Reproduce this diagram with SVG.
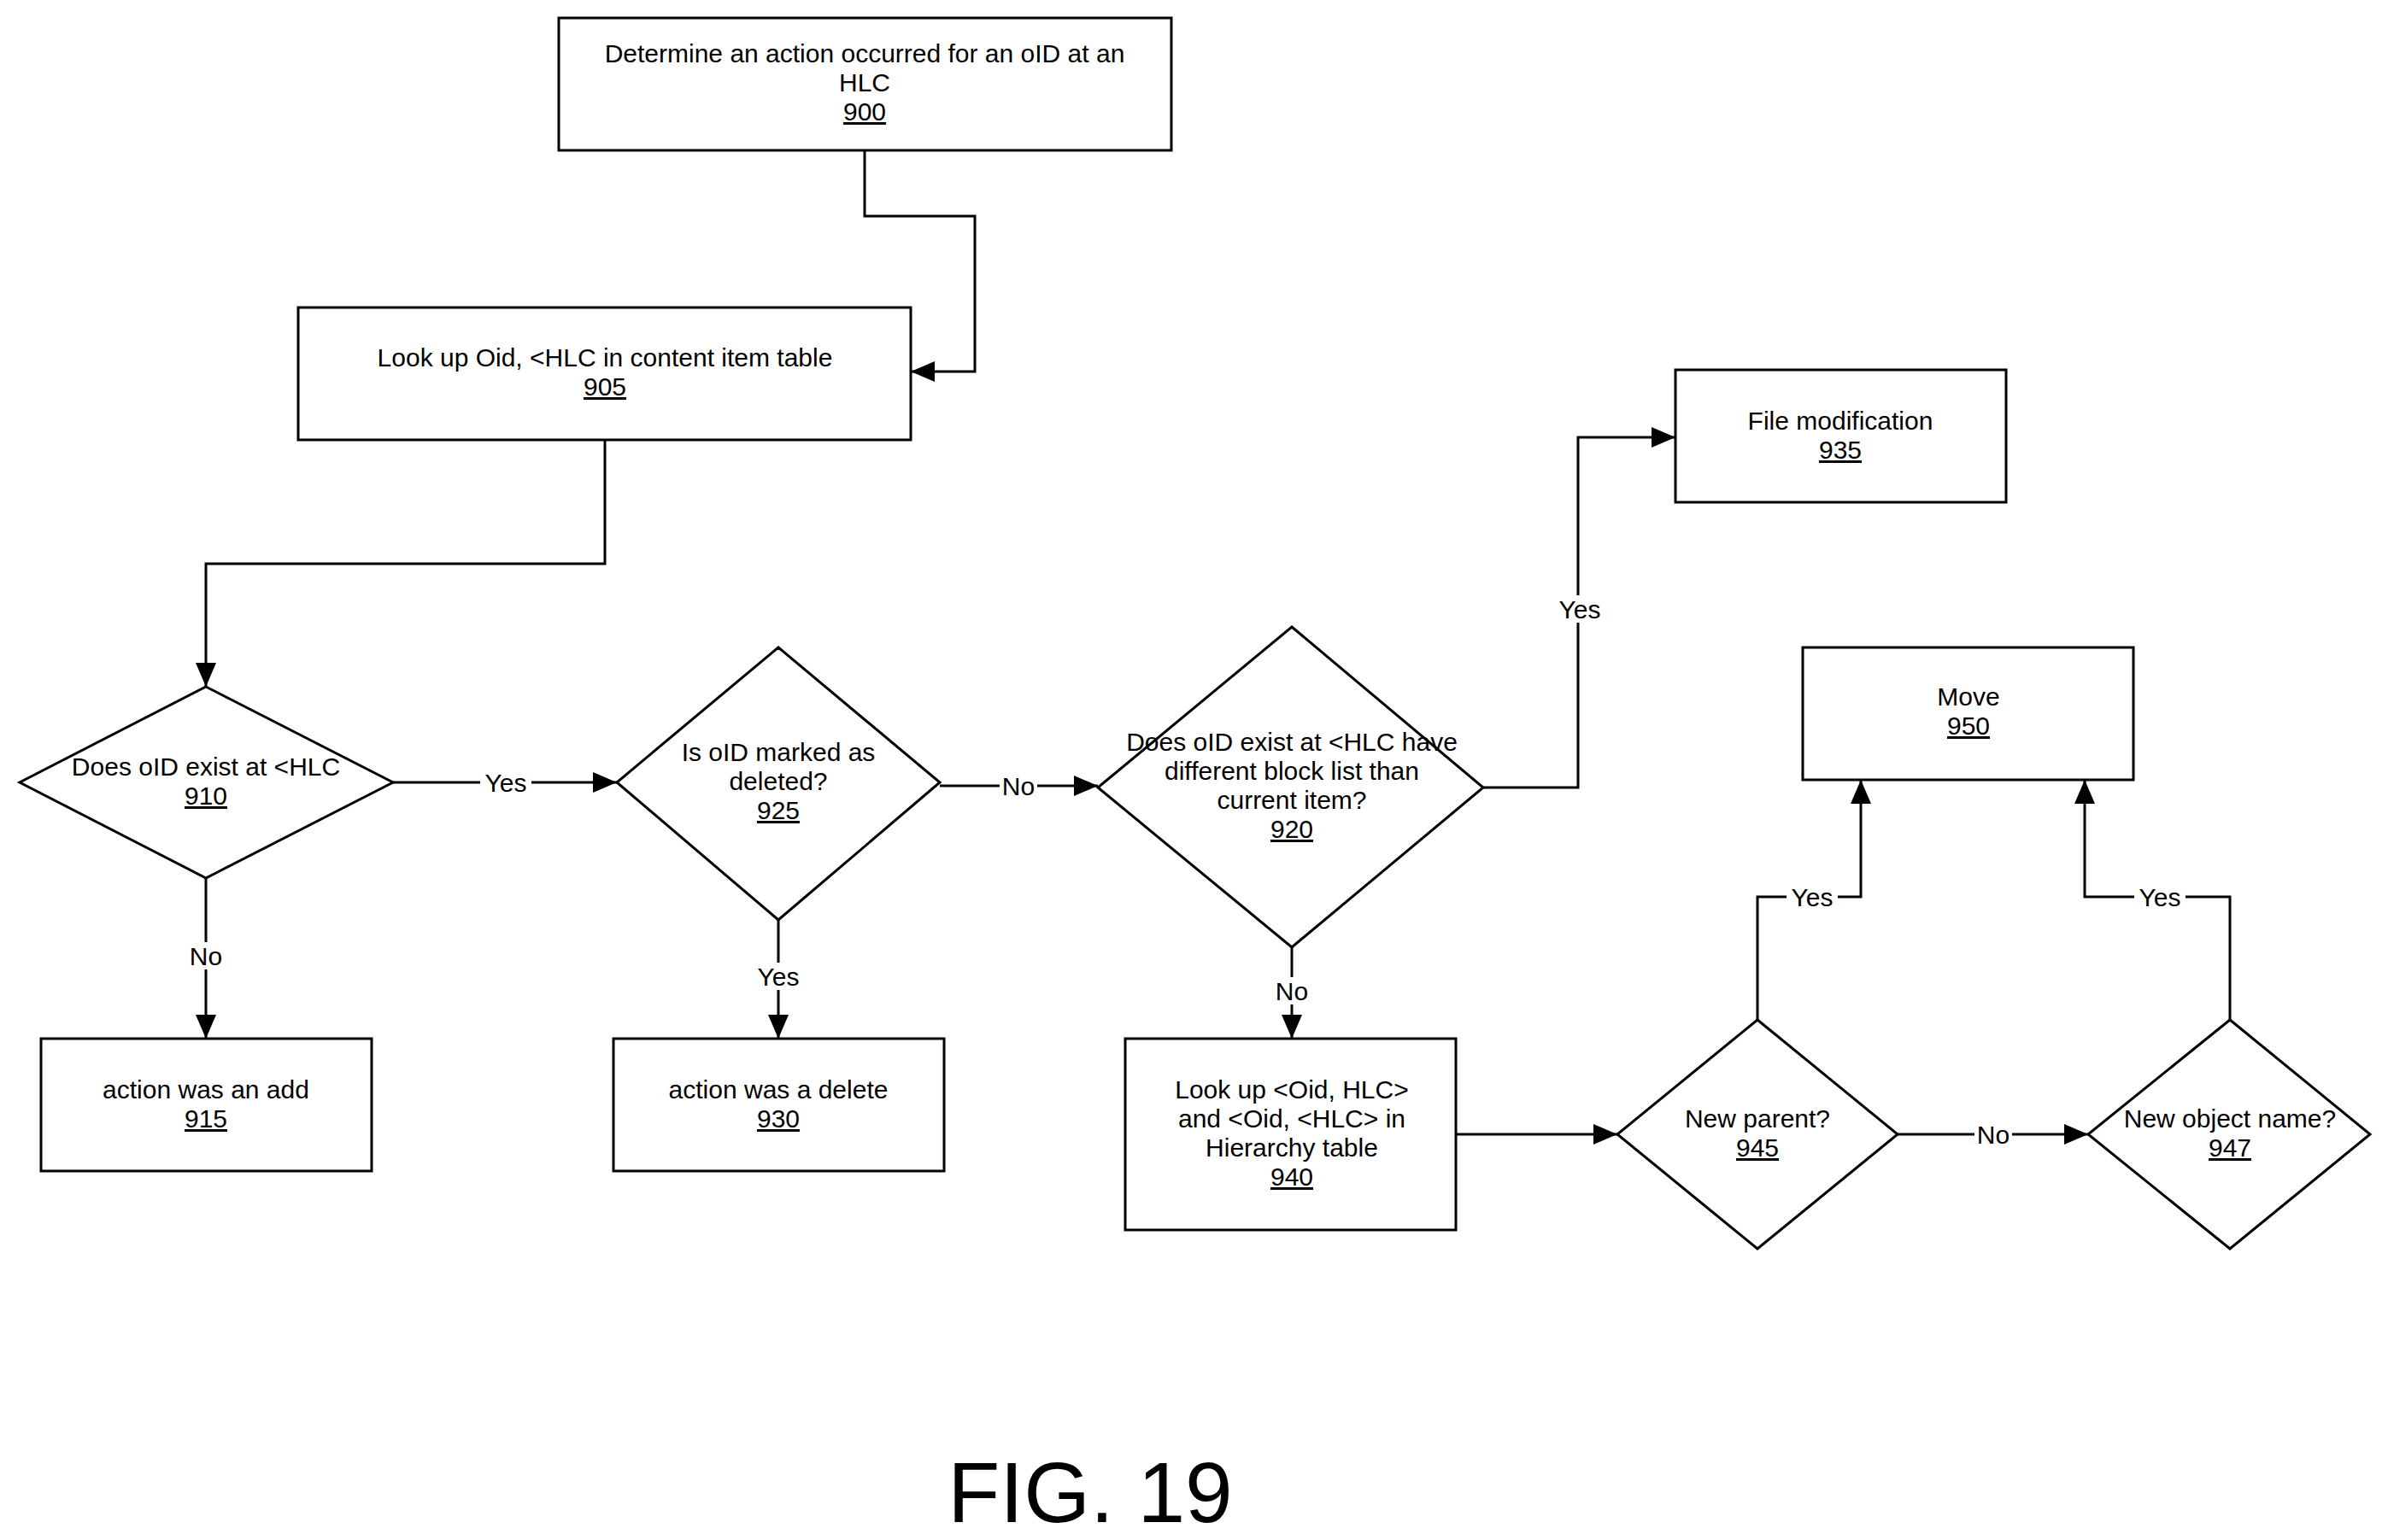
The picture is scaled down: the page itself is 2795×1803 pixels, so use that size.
<svg xmlns="http://www.w3.org/2000/svg" width="2795" height="1803" viewBox="0 0 2795 1803">
<style>
.s{fill:#fff;stroke:#000;stroke-width:3}
.c{fill:none;stroke:#000;stroke-width:3}
text{font-family:"Liberation Sans",Arial,sans-serif;font-size:30px;text-anchor:middle;fill:#000}
.u{text-decoration:underline}
.l{fill:#fff;stroke:none}
</style>
<defs><marker id="a" viewBox="0 0 10 10" refX="10" refY="5" markerWidth="10" markerHeight="10" markerUnits="userSpaceOnUse" orient="auto"><path d="M0,0L10,5L0,10z" fill="#000" transform="scale(1)"/></marker>
<marker id="b" viewBox="0 0 28 24" refX="28" refY="12" markerWidth="28" markerHeight="24" markerUnits="userSpaceOnUse" orient="auto"><path d="M0,0L28,12L0,24z" fill="#000"/></marker></defs>
<rect width="2795" height="1803" fill="#fff"/>
<g id="connectors">
<path class="c" d="M1012,176V253H1141V435H1066" marker-end="url(#b)"/>
<path class="c" d="M708,515V660H241V804" marker-end="url(#b)"/>
<path class="c" d="M460,916H722" marker-end="url(#b)"/>
<rect class="l" x="562" y="900" width="60" height="32"/><text x="592" y="927">Yes</text>
<path class="c" d="M1100,920H1285" marker-end="url(#b)"/>
<rect class="l" x="1170" y="904" width="44" height="32"/><text x="1192" y="931">No</text>
<path class="c" d="M1736,922H1847V512H1961" marker-end="url(#b)"/>
<rect class="l" x="1819" y="697" width="60" height="32"/><text x="1849" y="724">Yes</text>
<path class="c" d="M241,1028V1216" marker-end="url(#b)"/>
<rect class="l" x="219" y="1103" width="44" height="32"/><text x="241" y="1130">No</text>
<path class="c" d="M911,1077V1216" marker-end="url(#b)"/>
<rect class="l" x="881" y="1127" width="60" height="32"/><text x="911" y="1154">Yes</text>
<path class="c" d="M1512,1109V1216" marker-end="url(#b)"/>
<rect class="l" x="1490" y="1144" width="44" height="32"/><text x="1512" y="1171">No</text>
<path class="c" d="M1704,1328H1893" marker-end="url(#b)"/>
<path class="c" d="M2221,1328H2444" marker-end="url(#b)"/>
<rect class="l" x="2311" y="1312" width="44" height="32"/><text x="2333" y="1339">No</text>
<path class="c" d="M2057,1194V1050H2178V913" marker-end="url(#b)"/>
<rect class="l" x="2091" y="1034" width="60" height="32"/><text x="2121" y="1061">Yes</text>
<path class="c" d="M2610,1194V1050H2440V913" marker-end="url(#b)"/>
<rect class="l" x="2498" y="1034" width="60" height="32"/><text x="2528" y="1061">Yes</text>
</g>
<g id="n900"><rect class="s" x="654" y="21" width="717" height="155"/><text x="1012" y="73">Determine an action occurred for an oID at an</text><text x="1012" y="107">HLC</text><text class="u" x="1012" y="141">900</text></g>
<g id="n905"><rect class="s" x="349" y="360" width="717" height="155"/><text x="708" y="429">Look up Oid, &lt;HLC in  content item table</text><text class="u" x="708" y="463">905</text></g>
<g id="n910"><path class="s" d="M241,804L460,916L241,1028L23,916Z"/><text x="241" y="908">Does oID exist at &lt;HLC</text><text class="u" x="241" y="942">910</text></g>
<g id="n925"><path class="s" d="M911,758L1100,916L911,1077L722,916Z"/><text x="911" y="891">Is oID marked as</text><text x="911" y="925">deleted?</text><text class="u" x="911" y="959">925</text></g>
<g id="n920"><path class="s" d="M1512,734L1736,922L1512,1109L1285,922Z"/><text x="1512" y="879">Does oID exist at &lt;HLC have</text><text x="1512" y="913">different block list than</text><text x="1512" y="947">current item?</text><text class="u" x="1512" y="981">920</text></g>
<g id="n935"><rect class="s" x="1961" y="433" width="387" height="155"/><text x="2154" y="503">File modification</text><text class="u" x="2154" y="537">935</text></g>
<g id="n950"><rect class="s" x="2110" y="758" width="387" height="155"/><text x="2304" y="826">Move</text><text class="u" x="2304" y="860">950</text></g>
<g id="n915"><rect class="s" x="48" y="1216" width="387" height="155"/><text x="241" y="1286">action was an add</text><text class="u" x="241" y="1320">915</text></g>
<g id="n930"><rect class="s" x="718" y="1216" width="387" height="155"/><text x="911" y="1286">action was a delete</text><text class="u" x="911" y="1320">930</text></g>
<g id="n940"><rect class="s" x="1317" y="1216" width="387" height="224"/><text x="1512" y="1286">Look up &lt;Oid, HLC&gt;</text><text x="1512" y="1320">and &lt;Oid, &lt;HLC&gt; in</text><text x="1512" y="1354">Hierarchy table</text><text class="u" x="1512" y="1388">940</text></g>
<g id="n945"><path class="s" d="M2057,1194L2221,1328L2057,1462L1893,1328Z"/><text x="2057" y="1320">New parent?</text><text class="u" x="2057" y="1354">945</text></g>
<g id="n947"><path class="s" d="M2610,1194L2774,1328L2610,1462L2444,1328Z"/><text x="2610" y="1320">New object name?</text><text class="u" x="2610" y="1354">947</text></g>
<text x="1276" y="1782" style="font-size:100px">FIG. 19</text>
</svg>
